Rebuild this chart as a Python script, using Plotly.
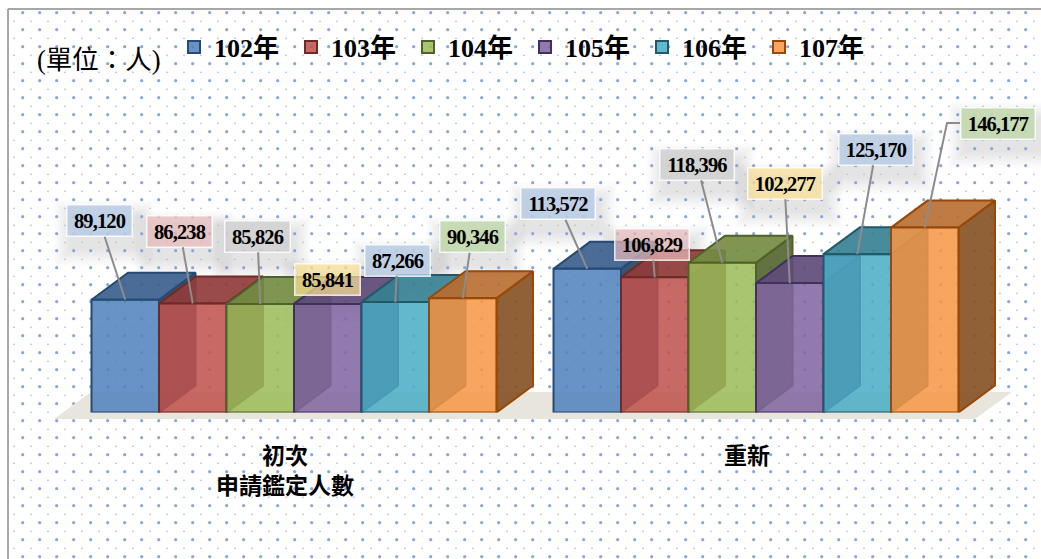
import numpy as np
import plotly.graph_objects as go

# ---------- data ----------
categories = ["初次<br>申請鑑定人數", "重新"]
series_names = ["102年", "103年", "104年", "105年", "106年", "107年"]
first_time = [89120, 86238, 85826, 85841, 87266, 90346]
renewed = [113572, 106829, 118396, 102277, 125170, 146177]
unit_label = "(單位：人)"

# ---------- style ----------
base_rgb = [(79, 129, 189), (192, 80, 77), (155, 187, 89), (128, 100, 162), (75, 172, 198), (247, 150, 70)]
edge_col = ["#254a73", "#6f2a28", "#4f6228", "#42305c", "#215968", "#984807"]
label_bg = ["rgba(185,205,229,.85)", "rgba(230,185,184,.72)", "rgba(208,208,208,.85)",
            "rgba(250,225,150,.72)", "rgba(185,205,229,.85)", "rgba(195,216,176,.9)"]
FONT = "Liberation Serif, Noto Sans CJK TC, serif"
W, H = 1041, 559
BASE_PX, PX_PER_UNIT = 412.5, 0.001265
GROUP_PX, GROUP0_PX = 462, 294
DEPTH_X_PX, DEPTH_Y_PX = 36.5, 27
BARGAP = 0.1234
BW = (1 - BARGAP) / 6
# label box centres in page pixels
box_first = [(99.5, 221), (180, 231.5), (257.5, 236.5), (327.5, 279.5), (397.5, 260), (472, 237)]
box_second = [(558.5, 204), (652, 244.5), (697, 164.5), (784.5, 183.5), (876, 149.5), (998, 123)]

xr = [-GROUP0_PX / GROUP_PX, (W - GROUP0_PX) / GROUP_PX]
yr = [0, BASE_PX / PX_PER_UNIT]
dx = DEPTH_X_PX / GROUP_PX
dy = DEPTH_Y_PX / PX_PER_UNIT


def rgba(c, k, a):
    return f"rgba({int(c[0]*k)},{int(c[1]*k)},{int(c[2]*k)},{a})"


fig = go.Figure()

# dotted page background (pixel axes x/y)
sx, sy = np.meshgrid(np.arange(22.7, W, 17), np.arange(12.7, H, 17))
fx, fy = np.meshgrid(np.arange(14, W, 17), np.arange(21.3, H, 17))
fig.add_trace(go.Scatter(x=sx.ravel(), y=sy.ravel(), mode="markers", showlegend=False,
                         marker=dict(size=3.2, color="#86a9dc", line_width=0)))
fig.add_trace(go.Scatter(x=fx.ravel(), y=fy.ravel(), mode="markers", showlegend=False,
                         marker=dict(size=1.8, color="#adc4e6", line_width=0)))
# floor
fig.add_trace(go.Scatter(x=[54, 975, 1012, 91, 54], y=[419, 419, 392, 392, 419], mode="lines", fill="toself",
                         line_width=0, fillcolor="#e8e6dc", showlegend=False))

# side and top faces (x2/y2)
for g, vals in enumerate([first_time, renewed]):
    for i, v in enumerate(vals):
        x0 = g + (i - 3) * BW
        x1 = x0 + BW
        c = base_rgb[i]
        fig.add_trace(go.Scatter(x=[x1, x1 + dx, x1 + dx, x1, x1], y=[v, v + dy, dy, 0, v], mode="lines",
                                 fill="toself", fillcolor=rgba(c, .55, .92),
                                 line=dict(color=edge_col[i], width=2), showlegend=False,
                                 xaxis="x2", yaxis="y2"))
        fig.add_trace(go.Scatter(x=[x0, x0 + dx, x1 + dx, x1, x0], y=[v, v + dy, v + dy, v, v], mode="lines",
                                 fill="toself", fillcolor=rgba(c, .75, .92),
                                 line=dict(color=edge_col[i], width=2), showlegend=False,
                                 xaxis="x2", yaxis="y2"))

# front faces (overlay x3/y3)
for i, name in enumerate(series_names):
    fig.add_trace(go.Bar(x=[0, 1], y=[first_time[i], renewed[i]], name=name,
                         marker=dict(color=rgba(base_rgb[i], 1, .86), line=dict(color=edge_col[i], width=2)),
                         xaxis="x3", yaxis="y3"))

# elbow connector of the last label
last = renewed[5]
cx = 1 + 2.5 * BW
ex0 = (947 - GROUP0_PX) / GROUP_PX
ex1 = (960 - GROUP0_PX) / GROUP_PX
fig.add_trace(go.Scatter(x=[cx, ex0, ex1], y=[last, (BASE_PX - 123) / PX_PER_UNIT, (BASE_PX - 123) / PX_PER_UNIT],
                         mode="lines", line=dict(color="#8c8c8c", width=2), showlegend=False,
                         xaxis="x3", yaxis="y3"))

annots, shapes = [], []
for g, (vals, boxes, bw) in enumerate([(first_time, box_first, 64), (renewed, box_second, 73)]):
    for i, v in enumerate(vals):
        bx, by = boxes[i]
        xc = g + (i - 2.5) * BW
        px = GROUP0_PX + xc * GROUP_PX
        py = BASE_PX - v * PX_PER_UNIT
        no_arrow = (g == 0 and i == 3) or (g == 1 and i == 5)
        annots.append(dict(xref="x2", yref="y2", x=xc, y=v, ax=bx - px, ay=by - py, axref="pixel", ayref="pixel",
                           text=f"<b>{v:,}</b>", showarrow=True,
                           arrowhead=0, arrowwidth=2, arrowcolor="rgba(0,0,0,0)" if no_arrow else "#8c8c8c",
                           font=dict(family=FONT, size=20.5, color="#000"),
                           bgcolor=label_bg[i], bordercolor="rgba(255,255,255,.8)", borderwidth=1.5, borderpad=0,
                           width=bw, height=30))
        for k in range(2, 20, 2):
            shapes.append(dict(type="rect", xref="x", yref="y", layer="below", line_width=0,
                               fillcolor="#555", opacity=0.018,
                               x0=bx - bw / 2 - k + 4, x1=bx + bw / 2 + k + 4,
                               y0=by - 15 - k + 12, y1=by + 15 + k + 12))

annots.append(dict(xref="x", yref="y", x=35, y=60, xanchor="left", yanchor="middle", showarrow=False, text=unit_label,
                   font=dict(family=FONT, size=26.5, color="#000")))

for x0, y0, x1, y1 in [(8, 9, 8, H), (8, 9, W, 9)]:
    shapes.append(dict(type="line", xref="x", yref="y", x0=x0, y0=y0, x1=x1, y1=y1,
                       line=dict(color="#a8a8a8", width=2), layer="above"))

fig.update_layout(
    width=W, height=H, autosize=False, margin=dict(l=0, r=0, t=0, b=0),
    paper_bgcolor="#fff", plot_bgcolor="rgba(0,0,0,0)", hovermode=False, barmode="group",
    bargap=BARGAP, bargroupgap=0,
    font=dict(family=FONT, color="#000"),
    legend=dict(orientation="h", x=174 / W, xanchor="left", y=1 - 47 / H, yanchor="middle",
                bgcolor="rgba(0,0,0,0)", entrywidth=72, entrywidthmode="pixels", traceorder="normal",
                font=dict(family=FONT, size=26, weight="bold", color="#000")),
    annotations=annots, shapes=shapes,
    xaxis=dict(domain=[0, 1], range=[0, W], visible=False, fixedrange=True),
    yaxis=dict(domain=[0, 1], range=[H, 0], visible=False, fixedrange=True),
    xaxis2=dict(domain=[0, 1], range=xr, anchor="y2", showgrid=False, zeroline=False, showline=False,
                tickmode="array", tickvals=[-9 / GROUP_PX, 1 - 9 / GROUP_PX], ticktext=categories,
                ticks="outside", ticklen=23, tickcolor="rgba(0,0,0,0)",
                tickfont=dict(family=FONT, size=23, weight="bold", color="#000")),
    yaxis2=dict(domain=[(H - BASE_PX) / H, 1], range=yr, anchor="x2", visible=False),
    xaxis3=dict(domain=[0, 1], range=xr, overlaying="x2", anchor="y3", visible=False),
    yaxis3=dict(domain=[(H - BASE_PX) / H, 1], range=yr, overlaying="y2", anchor="x3", visible=False),
)

fig.write_html("out.html", config={"displayModeBar": False},
               post_script="document.body.style.margin='0';document.body.style.overflow='hidden';"
                           "document.querySelectorAll('.annotation-text').forEach(function(t){"
                           "if(/^[0-9,]+$/.test(t.textContent)){t.style.letterSpacing='-0.9px';}});")
